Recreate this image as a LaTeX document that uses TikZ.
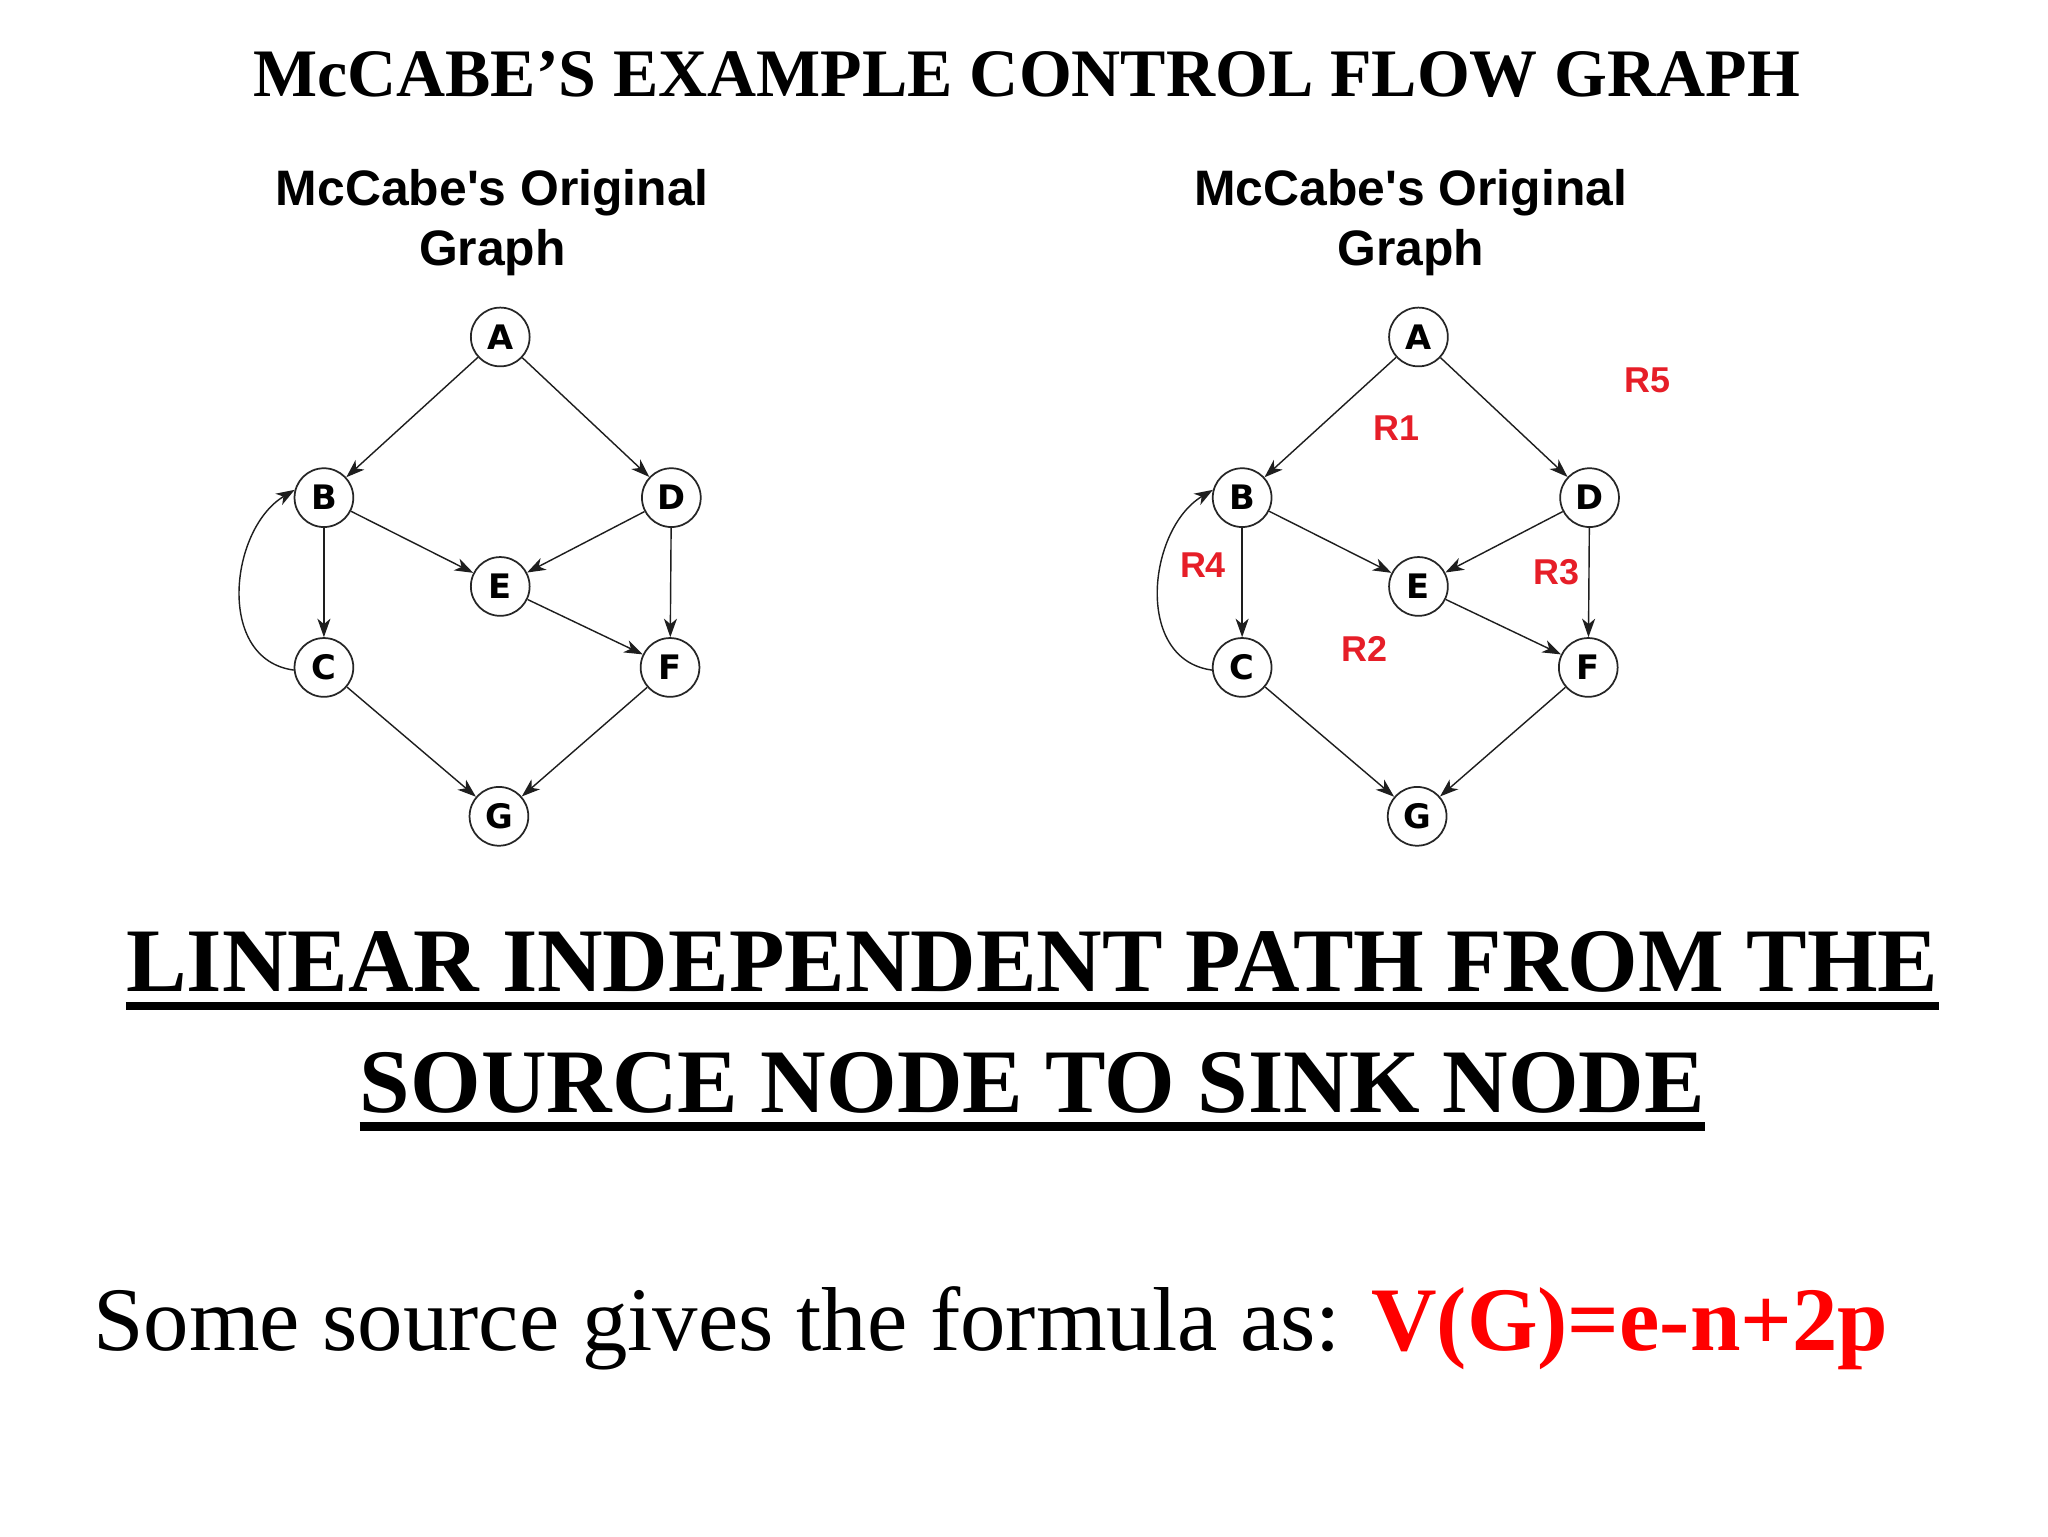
\documentclass[tikz,border=0pt]{standalone}
\usepackage{fontspec}
\setmainfont{Liberation Serif}
\newfontfamily\arialf[Ligatures=TeXOff]{Liberation Sans}
\newfontfamily\dejaf[Ligatures=TeXOff]{DejaVu Sans}
\usetikzlibrary{arrows.meta}
\definecolor{labred}{RGB}{230,30,40}
\definecolor{formred}{RGB}{255,0,0}
\definecolor{edgegray}{RGB}{30,30,30}
\tikzset{
  vtx/.style={circle,draw=black!85,line width=0.8pt,minimum size=27pt,inner sep=0pt,
    font=\dejaf\bfseries\fontsize{15.5}{15.5}\selectfont},
  edge/.style={draw=edgegray,line width=0.65pt,-{Stealth[length=8.5pt,width=6pt,inset=2.5pt]}},
  rlab/.style={text=labred,font=\arialf\bfseries\fontsize{16.5}{16.5}\selectfont,inner sep=0pt},
  subt/.style={font=\arialf\bfseries\fontsize{22.9}{27}\selectfont,inner sep=0pt,anchor=base},
  heading/.style={font=\bfseries\fontsize{41.7}{48}\selectfont,inner sep=0pt,anchor=base},
  uline/.style={line width=3.8pt}
}
\newcommand\mcgraph[2]{%
  \begin{scope}[shift={(#1,0)}]
    \node[subt] (#2t1) at (377,157) {McCabe's Original};
    \node[subt] (#2t2) at (377,203) {Graph};
    \node[vtx] (#2A) at (383,258) {A};
    \node[vtx] (#2B) at (248,381) {B};
    \node[vtx] (#2D) at (514,381) {D};
    \node[vtx] (#2E) at (383,449) {E};
    \node[vtx] (#2C) at (248,511) {C};
    \node[vtx] (#2F) at (513,511) {F};
    \node[vtx] (#2G) at (382,625) {G};
    \draw[edge] (#2A) -- (#2B);
    \draw[edge] (#2A) -- (#2D);
    \draw[edge] (#2B) -- (#2E);
    \draw[edge] (#2B) -- (#2C);
    \draw[edge] (#2D) -- (#2E);
    \draw[edge] (#2D) -- (#2F);
    \draw[edge] (#2E) -- (#2F);
    \draw[edge] (#2C) -- (#2G);
    \draw[edge] (#2F) -- (#2G);
    \draw[edge] (#2C.185) .. controls +(-60,-8) and +(-50,30) .. (#2B.165);
  \end{scope}}
\begin{document}
\begin{tikzpicture}[x=0.6pt,y=-0.6pt]
  \fill[white] (0,0) rectangle (1568,1176);
  \useasboundingbox (0,0) rectangle (1568,1176);
  \node[font=\bfseries\fontsize{31.2}{36}\selectfont,inner sep=0pt,anchor=base] (title) at (786,74)
    {McCABE’S EXAMPLE CONTROL FLOW GRAPH};
  \mcgraph{0}{l}
  \mcgraph{703}{r}
  \node[rlab] (R5) at (1261,291) {R5};
  \node[rlab] (R1) at (1069,328) {R1};
  \node[rlab] (R4) at (921,433) {R4};
  \node[rlab] (R3) at (1192,438) {R3};
  \node[rlab] (R2) at (1045,497) {R2};
  \node[heading] (h1) at (790.5,759) {LINEAR INDEPENDENT PATH FROM THE};
  \node[heading] (h2) at (790.5,852) {SOURCE NODE TO SINK NODE};
  \draw[uline] ([yshift=-6.6pt]h1.base west) -- ([yshift=-6.6pt]h1.base east);
  \draw[uline] ([yshift=-6.3pt]h2.base west) -- ([yshift=-6.3pt]h2.base east);
  \node[font=\fontsize{41.7}{48}\selectfont,inner sep=0pt,anchor=base west] (formula) at (71,1034)
    {Some source gives the formula as: \textcolor{formred}{\bfseries V(G)=e-n+2p}};
\end{tikzpicture}
\end{document}
